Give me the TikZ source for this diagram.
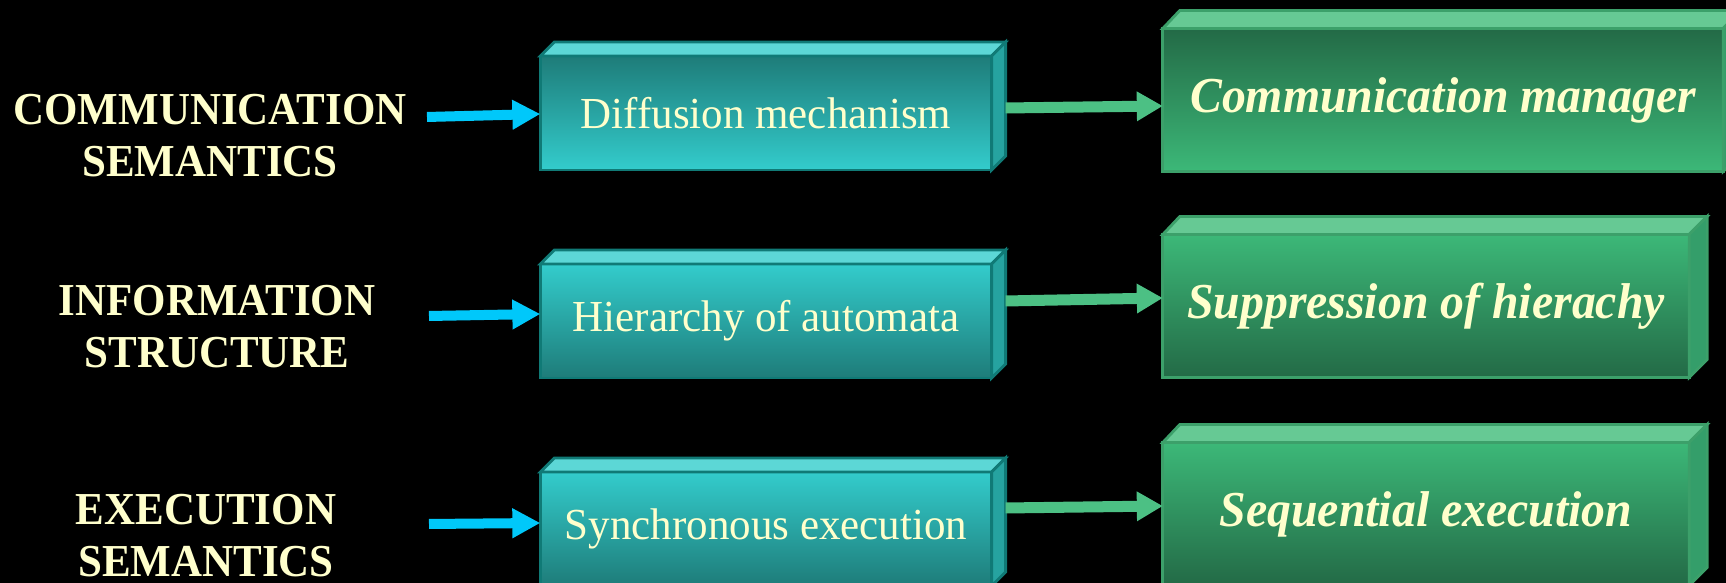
\documentclass[tikz,border=0pt]{standalone}
\usepackage{fontspec}
\setmainfont{Liberation Serif}
\newfontfamily\labelfont[FakeStretch=0.94]{Liberation Serif}
\newfontfamily\cyanfont[FakeStretch=0.97]{Liberation Serif}
\newfontfamily\greenfont[FakeStretch=0.95]{Liberation Serif}
\usepackage{tikz}
\usetikzlibrary{arrows.meta}
\definecolor{paleyellow}{RGB}{255,255,204}
\definecolor{cyandark}{RGB}{30,124,121}
\definecolor{cyanlight}{RGB}{51,204,204}
\definecolor{cyantop}{RGB}{92,215,214}
\definecolor{cyanside}{RGB}{38,163,160}
\definecolor{cyanedge}{RGB}{16,122,118}
\definecolor{greendark}{RGB}{35,106,70}
\definecolor{greenlight}{RGB}{60,184,120}
\definecolor{greentop}{RGB}{102,201,148}
\definecolor{greenside}{RGB}{52,158,106}
\definecolor{greenedge}{RGB}{60,160,106}
\definecolor{arrowcyan}{RGB}{0,200,250}
\definecolor{arrowgreen}{RGB}{76,192,132}

\begin{document}
\begin{tikzpicture}[x=0.01cm,y=-0.01cm,
    rowlabel/.style={align=center,text=paleyellow,inner sep=0pt,
      font=\labelfont\bfseries\fontsize{13}{14.8}\selectfont},
    cyanbox/.style={draw=cyanedge,line width=0.8pt,inner sep=0pt,outer sep=0pt,
      minimum width=4.51cm,minimum height=1.14cm,text=paleyellow,
      font=\cyanfont\fontsize{12.6}{15}\selectfont},
    greenbox/.style={draw=greenedge,line width=0.8pt,inner sep=0pt,outer sep=0pt,
      minimum width=5.26cm,minimum height=1.43cm,text=paleyellow,
      font=\greenfont\bfseries\itshape\fontsize{14.3}{17}\selectfont},
    cyanarrow/.style={arrowcyan,line width=0.10cm,
      -{Triangle[length=0.28cm,width=0.28cm]}},
    greenarrow/.style={arrowgreen,line width=0.11cm,
      -{Triangle[length=0.26cm,width=0.28cm]}}]
    \clip (0,0) rectangle (1726,583);
    \fill[black] (0,0) rectangle (1726,583);

    % row labels
    \node[rowlabel] (l1) at (210,136) {COMMUNICATION\\SEMANTICS};
    \node[rowlabel] (l2) at (217,327) {INFORMATION\\STRUCTURE};
    \node[rowlabel] (l3) at (206,536) {EXECUTION\\SEMANTICS};

    % middle boxes
    \node[cyanbox,top color=cyandark,bottom color=cyanlight] (c1) at (766,113)
      {Diffusion mechanism};
    \node[cyanbox,top color=cyanlight,bottom color=cyandark] (c2) at (766,321)
      {Hierarchy of automata};
    \node[cyanbox,top color=cyanlight,bottom color=cyandark] (c3) at (766,529)
      {Synchronous execution};
    \foreach \b in {c1,c2,c3}{
      \draw[cyanedge,fill=cyantop,line width=0.8pt] (\b.north west) -- ++(14,-14)
        -- ([shift={(14,-14)}]\b.north east) -- (\b.north east) -- cycle;
      \draw[cyanedge,fill=cyanside,line width=0.8pt] (\b.north east) -- ++(14,-14)
        -- ([shift={(14,-14)}]\b.south east) -- (\b.south east) -- cycle;}

    % right boxes
    \node[greenbox,minimum width=5.60cm,
      top color=greendark,bottom color=greenlight] (g1) at (1443,100)
      {Communication manager};
    \node[greenbox,top color=greenlight,bottom color=greendark] (g2) at (1426,306)
      {Suppression of hierachy};
    \node[greenbox,top color=greenlight,bottom color=greendark] (g3) at (1426,514)
      {Sequential execution};
    \foreach \b in {g1,g2,g3}{
      \draw[greenedge,fill=greentop,line width=0.8pt] (\b.north west) -- ++(17,-18)
        -- ([shift={(18,-18)}]\b.north east) -- (\b.north east) -- cycle;
      \draw[greenedge,fill=greenside,line width=0.8pt] (\b.north east) -- ++(18,-18)
        -- ([shift={(18,-18)}]\b.south east) -- (\b.south east) -- cycle;}

    % arrows
    \coordinate (t1) at (427,117);
    \coordinate (t2) at (429,316);
    \coordinate (t3) at (429,524);
    \draw[cyanarrow] (t1) -- ([shift={(0,1)}]c1.west);
    \draw[cyanarrow] (t2) -- ([shift={(0,-7)}]c2.west);
    \draw[cyanarrow] (t3) -- ([shift={(0,-6)}]c3.west);
    \draw[greenarrow] ([shift={(14,-5)}]c1.east) -- ([shift={(0,6)}]g1.west);
    \draw[greenarrow] ([shift={(14,-20)}]c2.east) -- ([shift={(0,-8)}]g2.west);
    \draw[greenarrow] ([shift={(14,-21)}]c3.east) -- ([shift={(0,-8)}]g3.west);
  \end{tikzpicture}
\end{document}
